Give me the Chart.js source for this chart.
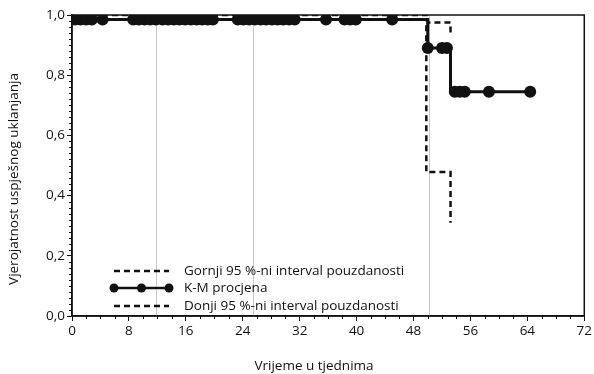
<!DOCTYPE html>
<html>
<head>
<meta charset="utf-8">
<script src="https://cdn.jsdelivr.net/npm/chart.js@4/dist/chart.umd.min.js"></script>
<style>
  html, body { margin: 0; padding: 0; background: #fff; }
  #wrap { width: 594px; height: 374px; }
</style>
</head>
<body>
<div id="wrap"><canvas id="kmChart" width="594" height="374"></canvas></div>
<script>
// Kaplan-Meier curve with 95 % confidence band (weeks / probability)
const kmWeeks = [0, 50, 53.2, 64.4];
const kmValues = [0.985, 0.89, 0.745, 0.745];

const upperWeeks = [0, 50, 53.2];
const upperValues = [1.0, 0.975, 0.93];

const lowerWeeks = [0, 49.8, 53.2];
const lowerValues = [0.985, 0.478, 0.31];

// censored observations, grouped by the step of the curve they sit on
const censoredStep1 = [0.4, 1.2, 2.0, 2.8, 4.3, 8.6, 9.4, 10.2, 11.0, 11.8, 12.7, 13.5, 14.3, 15.1,
  15.9, 16.7, 17.5, 18.3, 19.1, 19.8, 23.3, 24.1, 24.9, 25.7, 26.5, 27.3, 28.1, 28.9, 29.7, 30.5,
  31.3, 35.7, 38.3, 39.1, 39.9, 45.0];
const censoredStep2 = [50, 52.0, 52.7];
const censoredStep3 = [53.8, 54.5, 55.2, 58.6, 64.4];

const guideWeeks = [11.8, 25.4, 50.2];

const xTicks = [0, 8, 16, 24, 32, 40, 48, 56, 64, 72];
const yTicks = [0, 0.2, 0.4, 0.6, 0.8, 1.0];

const legendLabels = [
  'Gornji 95 %-ni interval pouzdanosti',
  'K-M procjena',
  'Donji 95 %-ni interval pouzdanosti'
];
const xTitle = 'Vrijeme u tjednima';
const yTitle = 'Vjerojatnost uspješnog uklanjanja';

const FONT = '"Open Sans", "Noto Sans", sans-serif';
const INK = '#111';

const toPoints = (xs, ys) => xs.map((x, i) => ({ x, y: ys[i] }));
const censored = [censoredStep1, censoredStep2, censoredStep3]
  .flatMap((weeks, i) => weeks.map(x => ({ x, y: kmValues[i] })));

// faint vertical guides, minor ticks, frame, legend and axis titles
const extras = {
  id: 'extras',
  beforeDatasetsDraw(chart) {
    const { ctx, chartArea: a, scales: { x } } = chart;
    ctx.save();
    ctx.strokeStyle = '#c9c9c9';
    ctx.lineWidth = 1;
    guideWeeks.forEach(w => {
      const px = Math.round(x.getPixelForValue(w)) + 0.5;
      ctx.beginPath();
      ctx.moveTo(px, a.top);
      ctx.lineTo(px, a.bottom);
      ctx.stroke();
    });
    ctx.restore();
  },
  afterDraw(chart) {
    const { ctx, chartArea: a, scales: { x, y } } = chart;
    ctx.save();

    // frame
    ctx.strokeStyle = INK;
    ctx.lineWidth = 1.5;
    ctx.strokeRect(a.left, a.top, a.right - a.left, a.bottom - a.top);

    // minor ticks
    ctx.lineWidth = 1;
    ctx.beginPath();
    for (let w = 2; w < 72; w += 2) {
      if (w % 8 === 0) continue;
      const px = Math.round(x.getPixelForValue(w)) + 0.5;
      ctx.moveTo(px, a.bottom);
      ctx.lineTo(px, a.bottom + 3);
    }
    for (let k = 1; k < 50; k++) {
      if (k % 10 === 0) continue;
      const py = Math.round(y.getPixelForValue(k / 50)) + 0.5;
      ctx.moveTo(a.left, py);
      ctx.lineTo(a.left - 3, py);
    }
    ctx.stroke();

    // legend
    const lx0 = 114, lx1 = 169, tx = 184;
    const rows = [271, 288, 306];
    ctx.font = '13.5px ' + FONT;
    ctx.fillStyle = INK;
    ctx.textBaseline = 'middle';
    ctx.textAlign = 'left';
    rows.forEach((ry, i) => {
      ctx.beginPath();
      ctx.lineWidth = 2.5;
      ctx.strokeStyle = INK;
      ctx.setLineDash(i === 1 ? [] : [6, 4]);
      ctx.moveTo(lx0, ry);
      ctx.lineTo(lx1, ry);
      ctx.stroke();
      ctx.setLineDash([]);
      if (i === 1) {
        [lx0, (lx0 + lx1) / 2, lx1].forEach(cx => {
          ctx.beginPath();
          ctx.arc(cx, ry, 4.5, 0, Math.PI * 2);
          ctx.fill();
        });
      }
      ctx.fillText(legendLabels[i], tx, ry);
    });

    // axis titles
    ctx.textAlign = 'center';
    ctx.fillText(xTitle, 314, 366);
    ctx.translate(14, 179);
    ctx.rotate(-Math.PI / 2);
    ctx.fillText(yTitle, 0, 0);
    ctx.restore();
  }
};

// stepped: 'before' keeps the previous level until the next week, then drops
const lineStyle = {
  borderColor: INK,
  borderWidth: 2.5,
  pointRadius: 0,
  fill: false,
  stepped: 'before'
};

new Chart(document.getElementById('kmChart'), {
  type: 'scatter',
  data: {
    datasets: [
      {
        label: 'K-M cenzurirani',
        data: censored,
        showLine: false,
        pointRadius: 6,
        pointBackgroundColor: INK,
        pointBorderColor: INK,
        pointBorderWidth: 0,
        order: 0
      },
      { ...lineStyle, label: legendLabels[1], data: toPoints(kmWeeks, kmValues), showLine: true, borderWidth: 3, order: 1 },
      { ...lineStyle, label: legendLabels[0], data: toPoints(upperWeeks, upperValues), showLine: true, borderDash: [6, 4], order: 2 },
      { ...lineStyle, label: legendLabels[2], data: toPoints(lowerWeeks, lowerValues), showLine: true, borderDash: [6, 4], order: 2 }
    ]
  },
  options: {
    responsive: false,
    animation: false,
    events: [],
    layout: { padding: { top: 15, right: 8, left: 0, bottom: 0 } },
    plugins: {
      legend: { display: false },
      tooltip: { enabled: false }
    },
    scales: {
      x: {
        type: 'linear',
        min: 0,
        max: 72,
        afterBuildTicks: s => { s.ticks = xTicks.map(v => ({ value: v })); },
        afterFit: s => { s.height = 58; },
        ticks: {
          color: INK,
          font: { family: FONT, size: 13.5 },
          padding: 2,
          maxRotation: 0,
          callback: v => String(v)
        },
        grid: { drawOnChartArea: false, color: INK, tickLength: 5, tickWidth: 1 },
        border: { display: true, color: INK, width: 1.5 }
      },
      y: {
        type: 'linear',
        min: 0,
        max: 1,
        afterBuildTicks: s => { s.ticks = yTicks.map(v => ({ value: v })); },
        afterFit: s => { s.width = 72; },
        ticks: {
          color: INK,
          font: { family: FONT, size: 13.5 },
          padding: 2,
          callback: v => v.toFixed(1).replace('.', ',')
        },
        grid: { drawOnChartArea: false, color: INK, tickLength: 5, tickWidth: 1 },
        border: { display: true, color: INK, width: 1.5 }
      }
    }
  },
  plugins: [extras]
});
</script>
</body>
</html>
